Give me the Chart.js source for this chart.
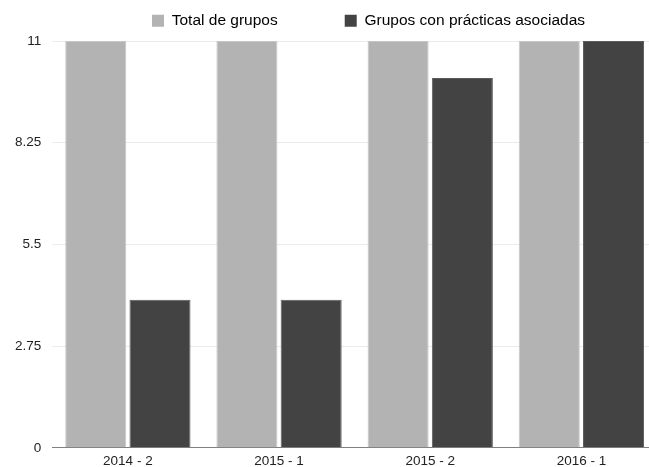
<!DOCTYPE html>
<html>
<head>
<meta charset="utf-8">
<script src="https://cdn.jsdelivr.net/npm/chart.js@4"></script>
<style>
  html, body { margin: 0; background: #fff; overflow: hidden; width: 649px; height: 467px; }
  #wrap { width: 657px; height: 467px; position: relative; }
</style>
</head>
<body>
<div id="wrap"><canvas id="groupsChart"></canvas></div>
<script>
const periods = ['2014 - 2', '2015 - 1', '2015 - 2', '2016 - 1']; // semestres
const totalGroups = [11, 11, 11, 11]; // Total de grupos
const groupsWithPractices = [4, 4, 10, 11]; // Grupos con prácticas asociadas
const yTicks = [0, 2.75, 5.5, 8.25, 11];

const FONT = 'Liberation Sans, Arial, sans-serif';

// ajusta la leyenda: separación horizontal amplia, altura fija
const legendTweak = {
    id: 'legendTweak',
    afterInit(chart) {
        const lg = chart.legend;
        const fit = lg.fit.bind(lg);
        lg.fit = function () { fit(); this.height = 41; };
        const draw = lg.draw.bind(lg);
        lg.draw = function () {
            const t = this.top, l = this.left, r = this.right;
            this.top = t - 54; this.left = l + 38; this.right = r + 38;
            draw();
            this.top = t; this.left = l; this.right = r;
        };
    }
};

const ctx = document.getElementById('groupsChart').getContext('2d');
const groupsChart = new Chart(ctx, {
    type: 'bar',
    data: {
        labels: periods,
        datasets: [{
            label: 'Total de grupos',
            data: totalGroups,
            backgroundColor: '#b3b3b3',
            borderColor: '#c6c6c6',
            borderWidth: 1
        }, {
            label: 'Grupos con prácticas asociadas',
            data: groupsWithPractices,
            backgroundColor: '#434343',
            borderColor: '#5c5c5c',
            borderWidth: 1
        }]
    },
    options: {
        responsive: true,
        maintainAspectRatio: false,
        animation: false,
        datasets: {
            bar: { categoryPercentage: 0.85, barPercentage: 0.95 }
        },
        layout: { padding: { left: 4, right: 0, top: 0, bottom: -7 } },
        plugins: {
            legend: {
                position: 'top',
                labels: {
                    boxWidth: 12,
                    boxHeight: 12,
                    padding: 67,
                    color: '#222',
                    font: { family: FONT, size: 15.5 },
                    generateLabels: function (chart) {
                        return chart.data.datasets.map(function (ds, i) {
                            return {
                                text: ds.label,
                                fillStyle: ds.backgroundColor,
                                strokeStyle: ds.backgroundColor,
                                lineWidth: 0,
                                datasetIndex: i
                            };
                        });
                    }
                }
            },
            tooltip: { enabled: false }
        },
        scales: {
            x: {
                grid: { display: false, drawTicks: false },
                border: { display: true, color: '#808080', width: 1 },
                ticks: {
                    color: '#222',
                    padding: 5,
                    font: { family: FONT, size: 13.5 }
                }
            },
            y: {
                min: 0,
                max: 11,
                afterBuildTicks: function (axis) {
                    axis.ticks = yTicks.map(function (v) { return { value: v }; });
                },
                grid: { color: '#ebebeb', drawTicks: false },
                border: { display: false },
                ticks: {
                    color: '#222',
                    padding: 11,
                    font: { family: FONT, size: 13.5 },
                    callback: function (v) { return String(v); }
                }
            }
        }
    },
    plugins: [legendTweak]
});
</script>
</body>
</html>
